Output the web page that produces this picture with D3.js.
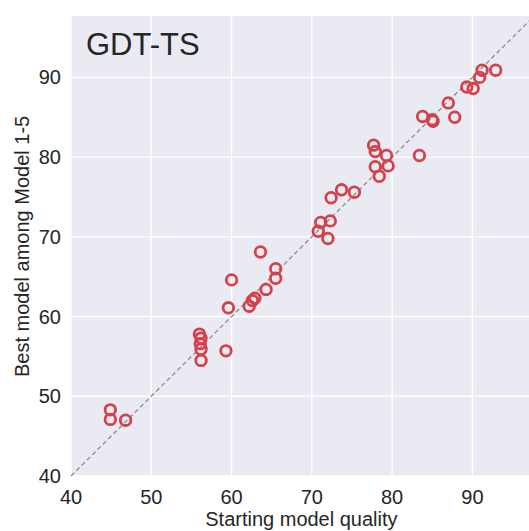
<!DOCTYPE html>
<html>
<head>
<meta charset="utf-8">
<script src="https://cdn.jsdelivr.net/npm/d3@7"></script>
<style>
body { margin: 0; background: #fff; }
svg { display: block; font-family: "Liberation Sans", Arial, sans-serif; }
</style>
</head>
<body>
<svg></svg>
<script>
// starting model quality (x) vs best of models 1-5 (y), GDT-TS
var startQ = [44.9, 44.9, 46.8,
	56.0, 56.2, 56.1, 56.2, 56.2, 59.3, 59.6, 60.0,
	62.2, 62.6, 62.9, 63.6, 64.3, 65.5, 65.5,
	70.8, 71.1, 72.3, 72.0, 72.4, 73.7, 75.3,
	77.7, 77.9, 79.3, 77.9, 79.5, 78.4,
	83.4, 83.8, 85.0, 85.1, 87.0, 87.8, 89.3, 90.1, 90.9, 91.2, 92.9];
var bestQ = [48.3, 47.1, 47.0,
	57.8, 57.3, 56.6, 55.9, 54.5, 55.7, 61.1, 64.6,
	61.3, 62.0, 62.3, 68.1, 63.4, 66.0, 64.8,
	70.7, 71.8, 72.0, 69.8, 74.9, 75.9, 75.6,
	81.5, 80.7, 80.2, 78.8, 78.9, 77.6,
	80.2, 85.1, 84.7, 84.5, 86.8, 85.0, 88.8, 88.6, 90.0, 90.9, 90.9];
var ticks = [40, 50, 60, 70, 80, 90];
var title = "GDT-TS";
var xLabel = "Starting model quality";
var yLabel = "Best model among Model 1-5";

var width = 529, height = 531;
var svg = d3.select("svg").attr("width", width).attr("height", height);

var x = d3.scaleLinear().domain([40, 97.3]).range([71, 531]);
var y = d3.scaleLinear().domain([40, 97.7]).range([476, 16]);

svg.append("rect")
	.attr("x", x(40)).attr("y", y(97.7))
	.attr("width", x(97.3) - x(40)).attr("height", y(40) - y(97.7))
	.style("fill", "#eaeaf2");

// grid
svg.selectAll(".vgrid").data(ticks)
	.enter().append("line")
	.attr("class", "vgrid")
	.attr("x1", d => x(d)).attr("x2", d => x(d))
	.attr("y1", y(40)).attr("y2", y(97.7))
	.style("stroke", "#fff").style("stroke-width", 1.4);

svg.selectAll(".hgrid").data(ticks)
	.enter().append("line")
	.attr("class", "hgrid")
	.attr("x1", x(40)).attr("x2", x(97.3))
	.attr("y1", d => y(d)).attr("y2", d => y(d))
	.style("stroke", "#fff").style("stroke-width", 1.4);

// y = x reference
svg.append("line")
	.attr("x1", x(40)).attr("y1", y(40))
	.attr("x2", x(97.7)).attr("y2", y(97.7))
	.style("stroke", "#8c8c8c").style("stroke-width", 1.3)
	.style("stroke-dasharray", "4.5,3");

// tick labels
svg.selectAll(".xt").data(ticks)
	.enter().append("text")
	.attr("class", "xt")
	.attr("x", d => x(d)).attr("y", 504)
	.attr("text-anchor", "middle")
	.style("font-size", "20px").style("fill", "#262626")
	.text(d => d);

svg.selectAll(".yt").data(ticks)
	.enter().append("text")
	.attr("class", "yt")
	.attr("x", 61).attr("y", d => y(d) + 7)
	.attr("text-anchor", "end")
	.style("font-size", "20px").style("fill", "#262626")
	.text(d => d);

svg.append("text")
	.attr("x", x(68.7)).attr("y", 526)
	.attr("text-anchor", "middle")
	.style("font-size", "20px").style("fill", "#262626")
	.text(xLabel);

svg.append("text")
	.attr("transform", "translate(29," + y(68.8) + ") rotate(-90)")
	.attr("text-anchor", "middle")
	.style("font-size", "20px").style("fill", "#262626")
	.text(yLabel);

svg.append("text")
	.attr("x", 86).attr("y", 55)
	.style("font-size", "31px").style("fill", "#262626")
	.text(title);

// points
svg.selectAll(".pt").data(d3.range(startQ.length))
	.enter().append("circle")
	.attr("class", "pt")
	.attr("cx", i => x(startQ[i]))
	.attr("cy", i => y(bestQ[i]))
	.attr("r", 5.3)
	.style("fill", "none")
	.style("stroke", "#d5414a")
	.style("stroke-width", 2.8);
</script>
</body>
</html>
